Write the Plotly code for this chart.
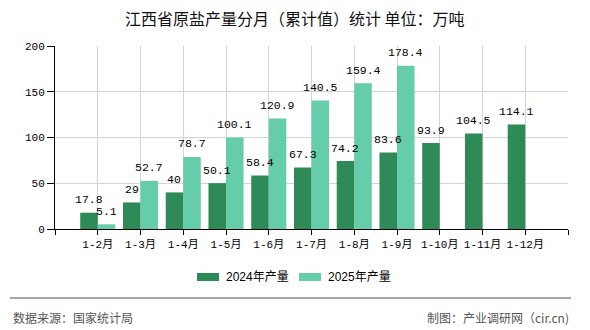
import plotly.graph_objects as go

categories = ["1-2月", "1-3月", "1-4月", "1-5月", "1-6月", "1-7月", "1-8月", "1-9月", "1-10月", "1-11月", "1-12月"]
values_2024 = [17.8, 29, 40, 50.1, 58.4, 67.3, 74.2, 83.6, 93.9, 104.5, 114.1]
values_2025 = [5.1, 52.7, 78.7, 100.1, 120.9, 140.5, 159.4, 178.4, None, None, None]
series_names = ["2024年产量", "2025年产量"]
colors = ["#2E8B57", "#66CDAA"]
title_text = "江西省原盐产量分月（累计值）统计 单位：万吨"
source_text = "数据来源：国家统计局"
credit_text = "制图：产业调研网（cir.cn)"

W, H = 590, 330
L, R, T, B = 55, 568, 46, 229
bargap = 0.18


def px(xp):
    return (xp - L) / (R - L)


def py(yp):
    return (B - yp) / (B - T)


xs = list(range(len(categories)))
fig = go.Figure()
for name, vals, col in zip(series_names, [values_2024, values_2025], colors):
    fig.add_trace(go.Bar(x=xs, y=vals, name=name, marker=dict(color=col, line=dict(width=0)),
                         showlegend=False, hoverinfo="x+y"))

label_font = dict(family="Liberation Mono, Noto Sans CJK SC", size=11.5, color="#000")
bw = (1 - bargap) / 2
for k, vals in enumerate([values_2024, values_2025]):
    off = -bw / 2 if k == 0 else bw / 2
    for i, v in enumerate(vals):
        if v is None:
            continue
        fig.add_annotation(x=i + off, y=v, text=f"{v:g}", showarrow=False, yshift=13,
                           font=label_font, xanchor="center", yanchor="middle")

tickvals = list(range(-1, len(categories) + 1))
ticktext = [""] + categories + [""]

fig.update_layout(
    width=W, height=H,
    margin=dict(l=L, r=W - R, t=T, b=H - B),
    paper_bgcolor="white", plot_bgcolor="white",
    barmode="group", bargap=bargap, bargroupgap=0,
    xaxis=dict(range=[-1, len(categories)], tickmode="array", tickvals=tickvals, ticktext=ticktext,
               showgrid=True, gridcolor="#d4d4d4", gridwidth=1, showline=True, linecolor="#000",
               linewidth=1, ticks="outside", ticklen=5, tickcolor="#000", zeroline=False,
               tickfont=dict(family="Liberation Mono, Noto Sans CJK SC", size=11, color="#000")),
    yaxis=dict(range=[0, 200], dtick=50, showgrid=True, gridcolor="#d4d4d4", gridwidth=1,
               showline=True, linecolor="#000", linewidth=1, ticks="outside", ticklen=7,
               tickcolor="#000", zeroline=False,
               tickfont=dict(family="Liberation Mono, Noto Sans CJK SC", size=11, color="#000")),
    font=dict(family="Noto Sans CJK SC"),
)

fig.add_annotation(xref="paper", yref="paper", x=px(295), y=py(18), text=title_text, showarrow=False,
                   xanchor="center", yanchor="middle",
                   font=dict(family="Noto Sans CJK SC", size=16, color="#111"))

# custom legend
leg = [(197, 219, 224), (299, 321, 326)]
for (x0, x1, tx), name, col in zip(leg, series_names, colors):
    fig.add_shape(type="rect", xref="paper", yref="paper", x0=px(x0), x1=px(x1), y0=py(281), y1=py(273),
                  fillcolor=col, line=dict(width=0))
    fig.add_annotation(xref="paper", yref="paper", x=px(tx), y=py(277), text=name, showarrow=False,
                       xanchor="left", yanchor="middle",
                       font=dict(family="Liberation Sans, Noto Sans CJK SC", size=12, color="#000"))

# footer
fig.add_shape(type="line", xref="paper", yref="paper", x0=px(10), x1=px(571), y0=py(298), y1=py(298),
              line=dict(color="#888", width=1.5))
fig.add_annotation(xref="paper", yref="paper", x=px(11), y=py(317), text=source_text, showarrow=False,
                   xanchor="left", yanchor="middle",
                   font=dict(family="Noto Sans CJK SC", size=12, color="#555"))
fig.add_annotation(xref="paper", yref="paper", x=px(571), y=py(317), text=credit_text, showarrow=False,
                   xanchor="right", yanchor="middle",
                   font=dict(family="Noto Sans CJK SC", size=12, color="#555"))

fig.write_html("out.html")
